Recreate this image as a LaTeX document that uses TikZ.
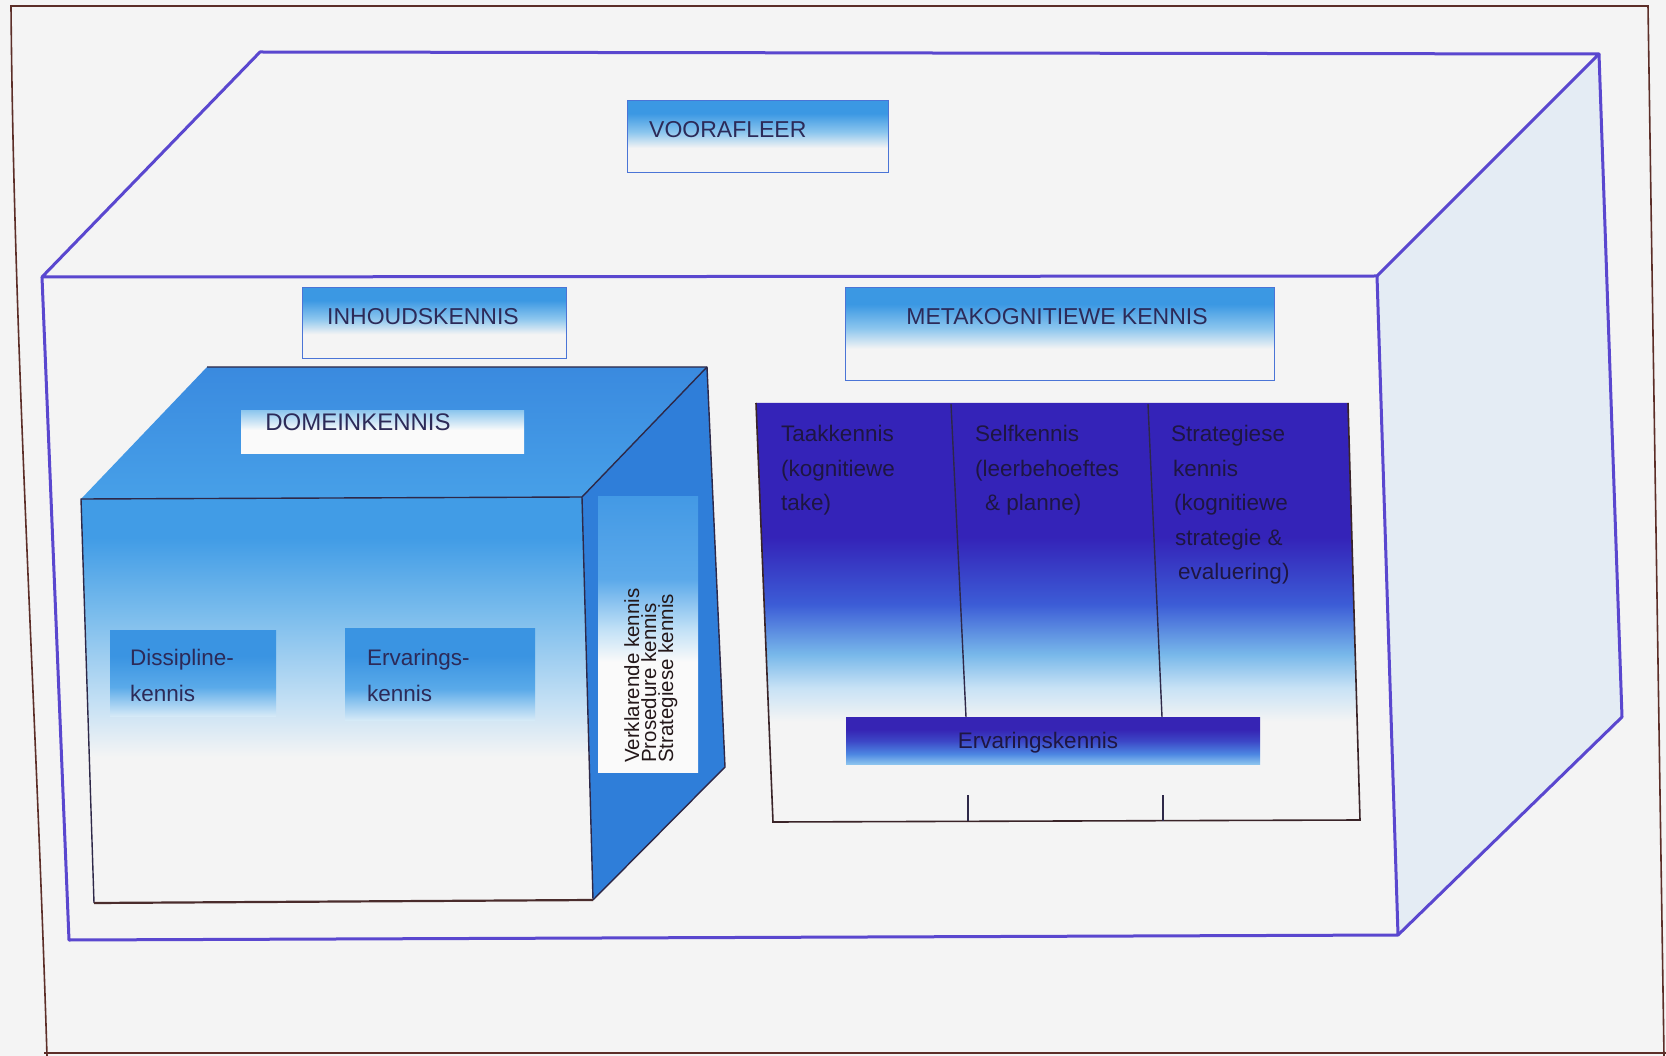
\documentclass[tikz,border=0pt]{standalone}
\usepackage{fontspec}
\setmainfont{Liberation Sans}
\definecolor{paper}{HTML}{F4F4F4}
\definecolor{framebrown}{HTML}{5C2E28}
\definecolor{boxpurple}{HTML}{5A47CF}
\definecolor{rfacefill}{HTML}{E4ECF4}
\definecolor{lbltop}{HTML}{3B98E3}
\definecolor{lblmid}{HTML}{8CC6EE}
\definecolor{lblborder}{HTML}{4A74D6}
\definecolor{textdark}{HTML}{2C2A58}
\definecolor{cubetopA}{HTML}{3A8ADF}
\definecolor{cubetopB}{HTML}{47A0E8}
\definecolor{cubefrontA}{HTML}{419CE6}
\definecolor{cubefrontB}{HTML}{78BBEC}
\definecolor{cubefrontC}{HTML}{C2DFF4}
\definecolor{cuberightfill}{HTML}{2F7ED9}
\definecolor{cubeedgecol}{HTML}{2E2848}
\definecolor{cubebottomcol}{HTML}{4A2C2C}
\definecolor{smallA}{HTML}{3A94E2}
\definecolor{smallB}{HTML}{5AAAE9}
\definecolor{smallC}{HTML}{D6EAF7}
\definecolor{vrectA}{HTML}{4399E5}
\definecolor{vrectA2}{HTML}{5BA9EA}
\definecolor{vrectB}{HTML}{C0E0F6}
\definecolor{vrectC}{HTML}{FAFAFA}
\definecolor{paneldark}{HTML}{3423B8}
\definecolor{panelmid}{HTML}{3C5CD6}
\definecolor{panellight}{HTML}{78B8EA}
\definecolor{panelpale}{HTML}{C8E2F5}
\definecolor{panellinecol}{HTML}{3A2428}
\definecolor{bardark}{HTML}{3624B4}
\definecolor{barmid}{HTML}{3C46C6}
\definecolor{barlow}{HTML}{4C86E2}
\definecolor{barpale}{HTML}{8CC4EE}
\definecolor{paneltext}{HTML}{1E1642}
\definecolor{vtextcol}{HTML}{24181A}

\pgfdeclareverticalshading{lblshade}{100bp}{color(0bp)=(paper); color(25bp)=(paper); color(42bp)=(paper); color(53bp)=(lblmid); color(66bp)=(lbltop); color(100bp)=(lbltop)}
\pgfdeclareverticalshading{domshade}{100bp}{color(0bp)=(vrectC); color(25bp)=(vrectC); color(52bp)=(vrectC); color(75bp)=(lblmid); color(100bp)=(lblmid)}
\pgfdeclareverticalshading{cubefrontshade}{100bp}{color(0bp)=(paper); color(25bp)=(paper); color(43bp)=(paper); color(50bp)=(cubefrontC); color(61bp)=(cubefrontB); color(70bp)=(cubefrontA); color(100bp)=(cubefrontA)}
\pgfdeclareverticalshading{cubetopshade}{100bp}{color(0bp)=(cubetopB); color(25bp)=(cubetopB); color(75bp)=(cubetopA); color(100bp)=(cubetopA)}
\pgfdeclareverticalshading{smallshade}{100bp}{color(0bp)=(smallC); color(25bp)=(smallC); color(42bp)=(smallB); color(60bp)=(smallA); color(100bp)=(smallA)}
\pgfdeclareverticalshading{vrectshade}{100bp}{color(0bp)=(vrectC); color(25bp)=(vrectC); color(45bp)=(vrectC); color(51bp)=(vrectB); color(60bp)=(vrectA2); color(75bp)=(vrectA); color(100bp)=(vrectA)}
\pgfdeclareverticalshading{panelshade}{100bp}{color(0bp)=(paper); color(25bp)=(paper); color(37bp)=(paper); color(41bp)=(panelpale); color(45bp)=(panellight); color(51bp)=(panelmid); color(59bp)=(paneldark); color(100bp)=(paneldark)}
\pgfdeclareverticalshading{barshade}{100bp}{color(0bp)=(barpale); color(25bp)=(barpale); color(36bp)=(barlow); color(50bp)=(barmid); color(62bp)=(bardark); color(100bp)=(bardark)}

\tikzset{
  frameline/.style={draw=framebrown, line width=1.6pt},
  bigline/.style={draw=boxpurple, line width=3pt, line join=round},
  lblbox/.style={shade, shading=lblshade, draw=lblborder, line width=0.9pt, inner sep=0pt, anchor=north west},
  lbltext/.style={text=textdark, font=\fontsize{23}{27}\selectfont, inner sep=0pt},
  cubeedge/.style={draw=cubeedgecol, line width=1.4pt, line join=round},
  cubebottom/.style={draw=cubebottomcol, line width=2.2pt, line join=round},
  smallbox/.style={shade, shading=smallshade, inner sep=0pt, anchor=north west},
  bodytext/.style={text=textdark, font=\fontsize{22.5}{36}\selectfont, inner sep=0pt, align=left, anchor=north west},
  paneltxt/.style={text=paneltext, font=\fontsize{22.5}{34.5}\selectfont, inner sep=0pt, align=left, anchor=north west},
  vtext/.style={text=vtextcol, font=\fontsize{20.5}{17}\selectfont, inner sep=0pt, align=left, rotate=90, anchor=north west},
  panelline/.style={draw=panellinecol, line width=1.6pt},
  divline/.style={draw=cubeedgecol, line width=1.4pt},
}

\begin{document}
\begin{tikzpicture}[x=1pt,y=-1pt]
\useasboundingbox (0,0) rectangle (1666,1056);
\fill[paper] (0,0) rectangle (1666,1056);

% outer frame
\draw[frameline] (47,1056) .. controls (36,700) and (14,350) .. (11,6) -- (1648,6) -- (1664,1056);
\draw[frameline] (44,1053) -- (1666,1053);

% big box
\coordinate (BA) at (260,52);
\coordinate (BB) at (1599,54);
\coordinate (BC) at (42,277);
\coordinate (BD) at (1377,276);
\coordinate (BE) at (1398,935);
\coordinate (BF) at (69,940);
\coordinate (BG) at (1622,717);
\fill[rfacefill] (BD) -- (BB) -- (BG) -- (BE) -- cycle;
\draw[bigline] (BC) -- (BA) -- (BB) -- (BD) -- cycle;
\draw[bigline] (BC) -- (BF) -- (BE) -- (BD);
\draw[bigline] (BB) -- (BG) -- (BE);

% label boxes
\node[lblbox, minimum width=261, minimum height=72] (voor) at (627,100) {};
\node[lbltext, anchor=west] (voortxt) at (649,130) {VOORAFLEER};
\node[lblbox, minimum width=264, minimum height=71] (inhoud) at (302,287) {};
\node[lbltext] (inhoudtxt) at (423,317) {INHOUDSKENNIS};
\node[lblbox, minimum width=429, minimum height=93] (meta) at (845,287) {};
\node[lbltext] (metatxt) at (1057,317) {METAKOGNITIEWE KENNIS};

% domain cube
\coordinate (CA) at (207,367);
\coordinate (CB) at (707,367);
\coordinate (CC) at (81,499);
\coordinate (CD) at (582,497);
\coordinate (CE) at (593,900);
\coordinate (CF) at (94,903);
\coordinate (CG) at (725,767);
\shade[shading=cubetopshade] (CA) -- (CB) -- (CD) -- (CC) -- cycle;
\fill[cuberightfill] (CD) -- (CB) -- (CG) -- (CE) -- cycle;
\shade[shading=cubefrontshade] (CC) -- (CD) -- (CE) -- (CF) -- cycle;
\draw[cubeedge] (CA) -- (CB) -- (CG) -- (CE);
\draw[cubeedge] (CB) -- (CD);
\draw[cubeedge] (CF) -- (CC) -- (CD) -- (CE);
\draw[cubebottom] (CF) -- (CE);

\node[shade, shading=domshade, inner sep=0pt, anchor=north west, minimum width=283, minimum height=43] (dom) at (241,410) {};
\node[lbltext, font=\fontsize{24}{28}\selectfont] (domtxt) at (358,422) {DOMEINKENNIS};

\node[smallbox, minimum width=166, minimum height=86] (diss) at (110,630) {};
\node[bodytext] (disstxt) at (130,649) {Dissipline-\\kennis};
\node[smallbox, minimum width=190, minimum height=92] (erv) at (345,628) {};
\node[bodytext] (ervtxt) at (367,649) {Ervarings-\\kennis};

\node[shade, shading=vrectshade, inner sep=0pt, anchor=north west, minimum width=100, minimum height=276] (vrect) at (598,496) {};
\node[vtext] (vtxt) at (624,763) {Verklarende kennis\\Prosedure kennis\\Strategiese kennis};

% metacognitive panel
\coordinate (PA) at (756,403);
\coordinate (PB) at (1348,403);
\coordinate (PC) at (1360,820);
\coordinate (PD) at (773,822);
\shade[shading=panelshade] (PA) -- (PB) -- (PC) -- (PD) -- cycle;
\draw[panelline] (PA) -- (PD) -- (PC) -- (PB);

\node[shade, shading=barshade, inner sep=0pt, anchor=north west, minimum width=414, minimum height=47] (bar) at (846,717) {};
\node[text=paneltext, font=\fontsize{22.5}{27}\selectfont, inner sep=0pt] (bartxt) at (1038,743) {Ervaringskennis};

\coordinate (D1t) at (951,404);
\coordinate (D1b) at (966,717);
\coordinate (D2t) at (1148,404);
\coordinate (D2b) at (1162,717);
\draw[divline] (D1t) -- (D1b);
\draw[divline] (D2t) -- (D2b);
\coordinate (T1a) at (968,795);
\coordinate (T1b) at (968,821);
\coordinate (T2a) at (1163,795);
\coordinate (T2b) at (1163,821);
\draw[divline] (T1a) -- (T1b);
\draw[divline] (T2a) -- (T2b);

\node[paneltxt] (taak) at (781,425) {Taakkennis\\(kognitiewe\\take)};
\node[paneltxt] (self) at (975,425) {Selfkennis\\(leerbehoeftes\\\hspace*{10pt}\& planne)};
\node[paneltxt] (strat) at (1171,425) {Strategiese\\\hspace*{2pt}kennis\\\hspace*{3pt}(kognitiewe\\\hspace*{4pt}strategie \&\\\hspace*{7pt}evaluering)};
\end{tikzpicture}
\end{document}
